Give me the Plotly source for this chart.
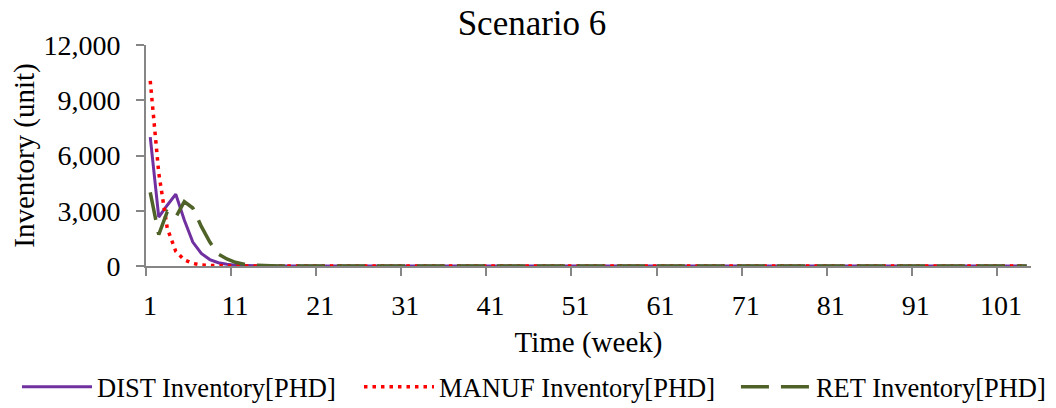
import plotly.graph_objects as go

# weekly inventory, 104 weeks
weeks = list(range(1, 105))

dist_inventory = [
    7000, 2650, 3300, 3900, 2500, 1300, 680, 350, 180, 90,
    45, 20, 10, 5, 0, 0, 0, 0, 0, 0,
    0, 0, 0, 0, 0, 0, 0, 0, 0, 0,
    0, 0, 0, 0, 0, 0, 0, 0, 0, 0,
    0, 0, 0, 0, 0, 0, 0, 0, 0, 0,
    0, 0, 0, 0, 0, 0, 0, 0, 0, 0,
    0, 0, 0, 0, 0, 0, 0, 0, 0, 0,
    0, 0, 0, 0, 0, 0, 0, 0, 0, 0,
    0, 0, 0, 0, 0, 0, 0, 0, 0, 0,
    0, 0, 0, 0, 0, 0, 0, 0, 0, 0,
    0, 0, 0, 0,
]

manuf_inventory = [
    10050, 5050, 2050, 800, 330, 140, 50, 20, 8, 0,
    0, 0, 0, 0, 0, 0, 0, 0, 0, 0,
    0, 0, 0, 0, 0, 0, 0, 0, 0, 0,
    0, 0, 0, 0, 0, 0, 0, 0, 0, 0,
    0, 0, 0, 0, 0, 0, 0, 0, 0, 0,
    0, 0, 0, 0, 0, 0, 0, 0, 0, 0,
    0, 0, 0, 0, 0, 0, 0, 0, 0, 0,
    0, 0, 0, 0, 0, 0, 0, 0, 0, 0,
    0, 0, 0, 0, 0, 0, 0, 0, 0, 0,
    0, 0, 0, 0, 0, 0, 0, 0, 0, 0,
    0, 0, 0, 0,
]

ret_inventory = [
    4000, 1700, 2950, 2650, 3500, 3150, 2150, 1300, 650, 380,
    200, 100, 50, 20, 10, 0, 0, 0, 0, 0,
    0, 0, 0, 0, 0, 0, 0, 0, 0, 0,
    0, 0, 0, 0, 0, 0, 0, 0, 0, 0,
    0, 0, 0, 0, 0, 0, 0, 0, 0, 0,
    0, 0, 0, 0, 0, 0, 0, 0, 0, 0,
    0, 0, 0, 0, 0, 0, 0, 0, 0, 0,
    0, 0, 0, 0, 0, 0, 0, 0, 0, 0,
    0, 0, 0, 0, 0, 0, 0, 0, 0, 0,
    0, 0, 0, 0, 0, 0, 0, 0, 0, 0,
    0, 0, 0, 0,
]

x_tick_labels = ["1", "11", "21", "31", "41", "51", "61", "71", "81", "91", "101"]
y_ticks = [0, 3000, 6000, 9000, 12000]

FONT = "Liberation Serif, Times New Roman, serif"
AXIS_GREY = "#868686"

fig = go.Figure()
fig.add_trace(go.Scatter(
    x=weeks, y=dist_inventory, mode="lines", name="DIST Inventory[PHD]",
    line=dict(color="#7030A0", width=3), legend="legend",
))
fig.add_trace(go.Scatter(
    x=weeks, y=manuf_inventory, mode="lines", name="MANUF Inventory[PHD]",
    line=dict(color="#FF0000", width=3.5, dash="3.5px,5px"), legend="legend2",
))
fig.add_trace(go.Scatter(
    x=weeks, y=ret_inventory, mode="lines", name="RET Inventory[PHD]",
    line=dict(color="#4F6228", width=3.5, dash="28px,12px"), legend="legend3",
))

# one legend per entry so each item sits where the reference puts it
legend_common = dict(
    orientation="h", xref="container", xanchor="left",
    y=0.0525, yref="container", yanchor="middle",
    font=dict(size=26.5), itemwidth=70, bgcolor="rgba(0,0,0,0)",
)

fig.update_layout(
    width=1048, height=400,
    paper_bgcolor="white", plot_bgcolor="white",
    font=dict(family=FONT, color="black", size=28),
    margin=dict(l=138, r=25, t=37, b=142, autoexpand=False),
    title=dict(text="Scenario 6", x=0.5, xref="container", xanchor="center",
               y=0.963, yanchor="middle", font=dict(size=35)),
    xaxis=dict(
        range=[0.5, 104.5],
        tickvals=[w - 0.5 for w in range(1, 102, 10)],
        ticktext=x_tick_labels,
        ticklabelshift=4,
        ticklabelstandoff=5,
        ticks="outside", ticklen=8, tickcolor=AXIS_GREY, tickwidth=2,
        showline=True, linecolor=AXIS_GREY, linewidth=2,
        showgrid=False, zeroline=False,
        tickfont=dict(size=28),
        title=dict(text="Time (week)", font=dict(size=29), standoff=12),
    ),
    yaxis=dict(
        range=[0, 12000],
        tickvals=y_ticks,
        tickformat=",d",
        ticks="outside", ticklen=8, tickcolor=AXIS_GREY, tickwidth=2,
        ticklabelstandoff=10,
        showline=True, linecolor=AXIS_GREY, linewidth=2,
        showgrid=False, zeroline=False,
        tickfont=dict(size=28),
        title=dict(text="Inventory (unit)", font=dict(size=29), standoff=24),
    ),
    legend=dict(x=0.0086, **legend_common),
    legend2=dict(x=0.3349, **legend_common),
    legend3=dict(x=0.6946, **legend_common),
    showlegend=True,
)

fig.write_html("out.html")
